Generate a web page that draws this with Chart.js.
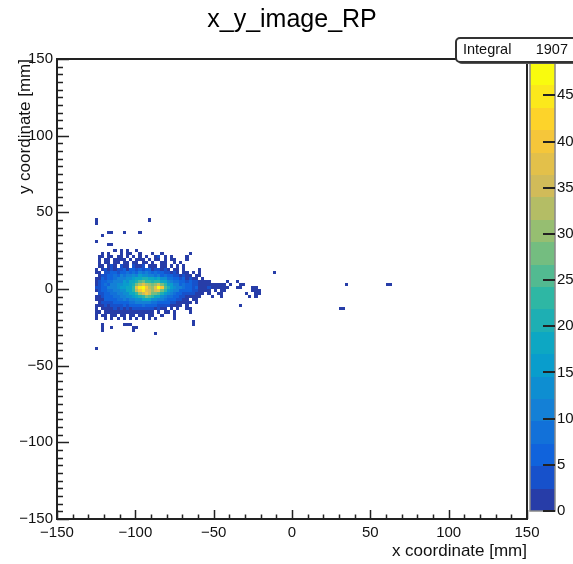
<!DOCTYPE html>
<html>
<head>
<meta charset="utf-8">
<script src="https://cdn.jsdelivr.net/npm/chart.js@4.4.1/dist/chart.umd.min.js"></script>
<style>
  html, body { margin: 0; padding: 0; background: #fff; }
</style>
</head>
<body>
<canvas id="histo" width="573" height="564"></canvas>
<script>
const chartTitle = 'x_y_image_RP';
const xTitle = 'x coordinate [mm]';
const yTitle = 'y coordinate [mm]';
const integral = 1907;

const binSize = 2;
const xTicks = [-150, -100, -50, 0, 50, 100, 150];
const yTicks = [-150, -100, -50, 0, 50, 100, 150];
const zTicks = [0, 5, 10, 15, 20, 25, 30, 35, 40, 45];
const zMax = 48.5;
const nContours = 20;

// dense block: lower bin edge of each column / row
const coreX = [-126, -124, -122, -120, -118, -116, -114, -112, -110, -108, -106, -104,
               -102, -100, -98, -96, -94, -92, -90, -88, -86, -84, -82, -80,
               -78, -76, -74, -72, -70, -68, -66, -64, -62, -60, -58, -56];
const coreY = [24, 22, 20, 18, 16, 14, 12, 10, 8, 6, 4, 2, 0, -2, -4, -6, -8, -10, -12, -14, -16, -18, -20];
const coreCounts = [
  [0,0,0,0,0,0,1,0,1,0,1,0,0,1,0,0,0,0,0,0,0,0,0,0,0,0,0,0,0,0,0,0,0,0,0,0],
  [0,0,1,0,1,0,0,0,1,0,1,1,0,0,1,0,0,0,1,0,0,1,0,0,0,0,0,0,0,0,1,0,0,0,0,0],
  [0,1,1,0,1,1,0,1,2,0,1,0,1,0,1,0,1,0,0,1,3,0,1,0,1,0,0,0,0,1,0,0,0,0,0,0],
  [0,1,0,1,2,0,1,1,2,1,0,1,0,1,2,1,0,1,0,1,1,0,1,0,1,1,0,0,0,1,0,0,0,0,0,0],
  [0,1,0,1,1,0,1,2,0,2,1,0,1,2,0,2,1,0,1,0,0,1,2,0,0,2,0,1,0,0,0,0,0,0,0,0],
  [0,1,2,0,2,3,1,0,3,1,2,0,3,1,2,3,0,2,1,2,0,1,2,0,1,0,1,0,1,0,0,0,0,0,0,0],
  [1,0,2,3,1,4,2,4,3,5,2,5,6,4,6,3,6,5,2,4,3,1,3,2,0,2,1,0,1,0,0,0,0,1,0,0],
  [1,2,0,4,3,5,6,3,7,5,8,6,9,7,10,8,10,9,6,8,5,6,3,4,1,3,2,0,2,1,0,1,0,1,0,0],
  [0,2,4,3,6,5,8,7,10,8,11,10,13,12,15,13,14,11,12,9,11,7,8,5,6,3,4,2,3,1,1,0,1,1,0,0],
  [2,1,5,4,7,6,9,10,12,11,14,13,16,18,19,21,20,17,18,15,17,13,13,9,9,6,7,4,5,2,3,1,2,0,1,0],
  [2,3,6,5,8,9,10,12,12,15,14,17,19,21,25,27,24,23,20,22,24,19,17,13,12,9,9,6,7,4,5,3,3,1,2,1],
  [1,4,5,8,7,10,11,13,13,16,16,19,21,27,33,37,32,30,27,31,36,28,22,16,15,11,10,7,8,5,6,3,4,2,2,1],
  [3,4,7,7,10,10,12,13,15,15,18,19,24,38,46,48,40,33,30,38,47,41,25,20,15,13,10,10,8,7,6,4,5,2,2,1],
  [2,3,6,7,9,9,11,12,14,14,17,18,22,33,41,44,37,35,31,34,38,29,22,16,14,10,10,7,7,5,5,3,3,1,1,1],
  [0,4,4,7,7,9,9,11,11,14,14,17,18,24,30,36,39,35,29,27,25,21,16,14,10,9,7,6,4,4,3,3,1,2,1,0],
  [1,2,4,5,7,7,9,9,11,11,13,13,16,17,21,24,28,25,23,18,17,13,12,9,8,5,5,3,4,2,2,1,1,1,0,0],
  [1,2,2,5,5,7,6,8,8,10,9,11,11,13,14,17,17,17,14,13,11,10,8,7,5,5,3,3,1,2,0,1,1,0,0,0],
  [0,2,3,3,4,4,5,6,5,7,6,8,8,10,10,12,11,11,9,9,7,7,5,5,3,3,2,2,1,1,1,0,1,0,0,0],
  [1,1,1,3,2,4,3,4,4,5,4,6,5,7,6,8,7,7,5,6,4,4,3,3,2,2,1,1,0,1,0,0,0,0,0,0],
  [1,0,2,1,2,2,3,2,3,2,4,2,4,3,4,3,4,3,3,2,3,1,2,0,1,0,1,0,0,1,1,0,0,0,0,0],
  [1,1,0,1,2,1,2,1,2,1,2,2,1,2,1,2,2,1,2,0,1,0,1,1,0,1,0,0,0,0,1,0,0,0,0,0],
  [1,0,1,1,0,1,1,0,1,1,0,1,1,0,1,1,0,1,1,0,0,1,0,0,0,1,0,0,0,0,0,0,0,0,0,0],
  [1,0,0,1,0,1,0,1,0,1,0,1,0,1,0,1,0,1,0,1,0,0,0,0,0,1,0,0,0,0,0,0,0,0,0,0]
];

// isolated bins outside the block (lower edges)
const looseX = [-126, -126, -92, -118, -116, -108, -98, -122, -126, -118, -116,
                -64, -122, -108, -106, -104, -64, -122, -116, -102, -100, -122, -102, -88, -126,
                -54, -42, -36,
                -54, -52, -50, -48, -46, -44, -40, -34, -32,
                -54, -52, -50, -48, -46, -44, -42, -36, -34, -26, -24,
                -54, -50, -46, -44, -26, -24, -22,
                -54, -48, -46, -30, -24, -22,
                -52, -46, -28, -24,
                -34,
                -12, 34, 60, 62, 30, 32];
const looseY = [44, 42, 44, 36, 36, 36, 36, 34, 30, 28, 28,
                -22, -24, -24, -24, -24, -24, -26, -26, -26, -26, -28, -28, -30, -40,
                4, 4, 4,
                2, 2, 2, 2, 2, 2, 2, 2, 2,
                0, 0, 0, 0, 0, 0, 0, 0, 0, 0, 0,
                -2, -2, -2, -2, -2, -2, -2,
                -4, -4, -4, -4, -4, -4,
                -6, -6, -6, -6,
                -12,
                10, 2, 2, 2, -14, -14];
const looseCount = [1, 1, 1, 1, 1, 1, 1, 1, 1, 1, 1,
                    1, 1, 1, 1, 1, 1, 1, 1, 1, 1, 1, 1, 1, 1,
                    1, 1, 1,
                    2, 2, 1, 1, 2, 1, 1, 1, 1,
                    3, 2, 2, 1, 1, 2, 1, 1, 1, 1, 1,
                    2, 1, 1, 1, 1, 1, 1,
                    1, 1, 1, 1, 1, 1,
                    1, 1, 1, 1,
                    1,
                    1, 1, 1, 1, 1, 1];

// ROOT "bird" palette
const birdStops = [0.0, 0.125, 0.25, 0.375, 0.5, 0.625, 0.75, 0.875, 1.0];
const birdR = [0.2082, 0.0592, 0.0780, 0.0232, 0.1802, 0.5301, 0.8186, 0.9956, 0.9764];
const birdG = [0.1664, 0.3599, 0.5041, 0.6419, 0.7178, 0.7492, 0.7328, 0.7862, 0.9832];
const birdB = [0.5293, 0.8684, 0.8385, 0.7914, 0.6425, 0.4662, 0.3499, 0.1968, 0.0539];

function birdColor(f) {
    let k = 0;
    while (k < birdStops.length - 2 && f > birdStops[k + 1]) k++;
    const t = (f - birdStops[k]) / (birdStops[k + 1] - birdStops[k]);
    const mix = arr => Math.round(255 * (arr[k] + (arr[k + 1] - arr[k]) * t));
    return `rgb(${mix(birdR)},${mix(birdG)},${mix(birdB)})`;
}

const contourColors = [];
for (let i = 0; i < nContours; i++) {
    contourColors.push(birdColor(Math.floor((i + 0.99) * 255 / nContours) / 254));
}

function cellColor(v) {
    const level = Math.min(nContours - 1, Math.floor(v * nContours / zMax + 0.01));
    return contourColors[level];
}

function minusLabel(v) {
    return v < 0 ? '\u2212' + Math.abs(v) : String(v);
}

// bin centres fed to the chart
const cells = [];
coreY.forEach((y, r) => {
    coreCounts[r].forEach((c, i) => {
        if (c > 0) cells.push({ x: coreX[i] + binSize / 2, y: y + binSize / 2, v: c });
    });
});
looseX.forEach((x, i) => {
    cells.push({ x: x + binSize / 2, y: looseY[i] + binSize / 2, v: looseCount[i] });
});

const fontFamily = "'Liberation Sans', Arial, Helvetica, sans-serif";
Chart.defaults.font.family = fontFamily;
Chart.defaults.color = '#111';

const histPlugin = {
    id: 'histPlugin',
    afterLayout(chart) {
        // palette axis is a bit shorter than the frame
        const z = chart.scales.z;
        z.top = chart.chartArea.top + 4;
        z.bottom = chart.chartArea.bottom - 8;
        z.height = z.bottom - z.top;
        z.configure();
    },
    beforeDatasetsDraw(chart) {
        const { ctx, chartArea: a, scales: { x, y } } = chart;
        ctx.save();
        ctx.beginPath();
        ctx.rect(a.left, a.top, a.right - a.left, a.bottom - a.top);
        ctx.clip();
        chart.data.datasets[0].data.forEach(p => {
            const x0 = Math.round(x.getPixelForValue(p.x - binSize / 2));
            const x1 = Math.round(x.getPixelForValue(p.x + binSize / 2));
            const y0 = Math.round(y.getPixelForValue(p.y + binSize / 2));
            const y1 = Math.round(y.getPixelForValue(p.y - binSize / 2));
            ctx.fillStyle = cellColor(p.v);
            ctx.fillRect(x0, y0, x1 - x0, y1 - y0);
        });
        ctx.restore();
    },
    afterDraw(chart) {
        const { ctx, chartArea: a, scales: { x, y, z } } = chart;
        ctx.save();

        // frame
        ctx.strokeStyle = '#222';
        ctx.lineWidth = 2;
        ctx.strokeRect(a.left, a.top, a.right - a.left, a.bottom - a.top);

        // ticks inside the frame
        ctx.lineWidth = 1.5;
        ctx.beginPath();
        for (let v = -150; v <= 150; v += 10) {
            const px = Math.round(x.getPixelForValue(v)) + 0.5;
            const len = v % 50 === 0 ? 9 : 4.5;
            ctx.moveTo(px, a.bottom);
            ctx.lineTo(px, a.bottom - len);
        }
        for (let v = -150; v <= 150; v += 5) {
            const py = Math.round(y.getPixelForValue(v)) + 0.5;
            const len = v % 50 === 0 ? 12 : 6;
            ctx.moveTo(a.left, py);
            ctx.lineTo(a.left + len, py);
        }
        ctx.stroke();

        // colour bar
        const barL = a.right + 3;
        const barR = a.right + 28;
        for (let k = 0; k < nContours; k++) {
            const yb = Math.round(z.getPixelForValue(k * zMax / nContours));
            const yt = Math.round(z.getPixelForValue((k + 1) * zMax / nContours));
            ctx.fillStyle = contourColors[k];
            ctx.fillRect(barL, yt, barR - barL, yb - yt);
        }
        ctx.strokeStyle = '#888';
        ctx.lineWidth = 1.5;
        ctx.strokeRect(barL, z.getPixelForValue(zMax), barR - barL, z.getPixelForValue(0) - z.getPixelForValue(zMax));
        ctx.strokeStyle = '#222';
        ctx.lineWidth = 2;
        ctx.beginPath();
        zTicks.forEach(v => {
            const py = Math.round(z.getPixelForValue(v));
            ctx.moveTo(barR, py);
            ctx.lineTo(barR - 12, py);
        });
        ctx.stroke();

        // statistics box
        const bx = chart.width - 117, by = 38, bw = 130, bh = 24;
        ctx.fillStyle = '#555';
        ctx.beginPath();
        ctx.roundRect(bx + 2, by + 2, bw, bh, 4);
        ctx.fill();
        ctx.fillStyle = '#fff';
        ctx.strokeStyle = '#333';
        ctx.lineWidth = 2;
        ctx.beginPath();
        ctx.roundRect(bx, by, bw, bh, 4);
        ctx.fill();
        ctx.stroke();
        ctx.fillStyle = '#111';
        ctx.font = '14.5px ' + fontFamily;
        ctx.textBaseline = 'middle';
        ctx.textAlign = 'left';
        ctx.fillText('Integral', bx + 7, by + bh / 2);
        ctx.textAlign = 'right';
        ctx.fillText(String(integral), chart.width - 5, by + bh / 2);

        ctx.restore();
    }
};

new Chart(document.getElementById('histo'), {
    type: 'scatter',
    data: {
        datasets: [{
            data: cells,
            pointRadius: 0,
            pointHoverRadius: 0
        }]
    },
    options: {
        responsive: false,
        animation: false,
        devicePixelRatio: 1,
        events: [],
        layout: { padding: 0 },
        plugins: {
            legend: { display: false },
            tooltip: { enabled: false },
            title: {
                display: true,
                text: chartTitle,
                fullSize: false,
                color: '#000',
                font: { size: 25, weight: 'normal' },
                padding: { top: 5, bottom: 24 }
            }
        },
        scales: {
            x: {
                type: 'linear',
                position: 'bottom',
                min: -150,
                max: 150,
                grid: { display: false, drawTicks: false },
                border: { display: false },
                afterBuildTicks: s => { s.ticks = xTicks.map(v => ({ value: v })); },
                afterFit: s => { s.height = 45; },
                ticks: {
                    autoSkip: false,
                    maxRotation: 0,
                    padding: 5,
                    font: { size: 15 },
                    callback: v => minusLabel(v)
                },
                title: {
                    display: true,
                    text: xTitle,
                    align: 'end',
                    font: { size: 17 },
                    padding: { top: 0, bottom: 2 }
                }
            },
            y: {
                type: 'linear',
                position: 'left',
                min: -150,
                max: 150,
                grid: { display: false, drawTicks: false },
                border: { display: false },
                afterBuildTicks: s => { s.ticks = yTicks.map(v => ({ value: v })); },
                afterFit: s => { s.width = 57; },
                ticks: {
                    autoSkip: false,
                    padding: 4,
                    font: { size: 15 },
                    callback: v => minusLabel(v)
                },
                title: {
                    display: true,
                    text: yTitle,
                    align: 'end',
                    font: { size: 17 },
                    padding: { top: 15, bottom: 0 }
                }
            },
            z: {
                type: 'linear',
                position: 'right',
                min: 0,
                max: zMax,
                grid: { display: false, drawTicks: false },
                border: { display: false },
                afterBuildTicks: s => { s.ticks = zTicks.map(v => ({ value: v })); },
                afterFit: s => { s.width = 46; },
                ticks: {
                    autoSkip: false,
                    padding: 30,
                    font: { size: 15 }
                }
            }
        }
    },
    plugins: [histPlugin]
});
</script>
</body>
</html>
